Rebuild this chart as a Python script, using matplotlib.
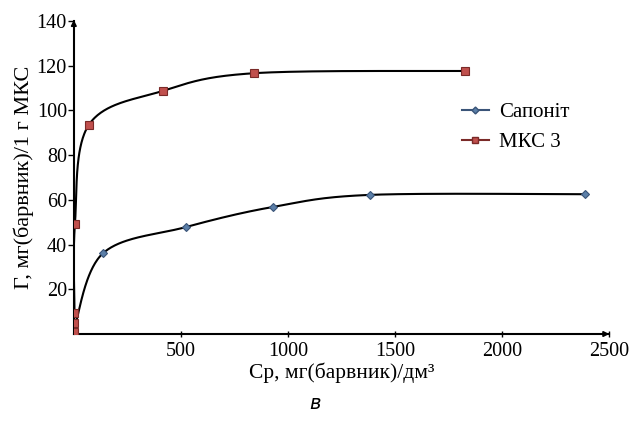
import numpy as np
import matplotlib.pyplot as plt
from matplotlib.lines import Line2D

plt.rcParams['font.family'] = ['Liberation Serif', 'DejaVu Serif']

# дані з графіка
sap_x = [1, 135, 523, 930, 1383, 2390]
sap_y = [2, 36, 47.8, 56.8, 62.2, 62.5]
mks_x = [1, 2, 3, 5, 70, 416, 841, 1827]
mks_y = [1, 5, 9.5, 49, 93.5, 108.7, 116.6, 117.6]

x_ticks = [500, 1000, 1500, 2000, 2500]
y_ticks = [20, 40, 60, 80, 100, 120, 140]

XMAX, YMAX = 2500, 140


def smooth(xs, ys, sx, sy, n=60):
    # згладжування як в Excel (кубічні Безьє), рахуємо в пікселях
    p = np.column_stack([np.array(xs) * sx, np.array(ys) * sy])
    out = [p[0]]
    for i in range(len(p) - 1):
        p0 = p[i - 1] if i > 0 else p[i]
        p1, p2 = p[i], p[i + 1]
        p3 = p[i + 2] if i + 2 < len(p) else p[i + 1]
        c1 = p1 + (p2 - p0) / 6
        c2 = p2 - (p3 - p1) / 6
        t = np.linspace(0, 1, n)[1:, None]
        seg = (1 - t) ** 3 * p1 + 3 * (1 - t) ** 2 * t * c1 + 3 * (1 - t) * t ** 2 * c2 + t ** 3 * p2
        out.extend(seg)
    out = np.array(out)
    return out[:, 0] / sx, out[:, 1] / sy


fig = plt.figure(figsize=(6.31, 4.22), dpi=100)
ax = fig.add_axes([0.117, 0.2085, 0.848, 0.742])

sx = 535 / XMAX
sy = 313 / YMAX

cx, cy = smooth(sap_x, sap_y, sx, sy)
ax.plot(cx, cy, color='black', lw=1.5, zorder=2)
cx, cy = smooth(mks_x, mks_y, sx, sy)
ax.plot(cx, cy, color='black', lw=1.5, zorder=2)

ax.plot(sap_x, sap_y, ls='none', marker='D', ms=4.5, mfc='#5b7fa8', mec='#3a5478', mew=0.8, zorder=3)
ax.plot(mks_x, mks_y, ls='none', marker='s', ms=6, mfc='#c0504d', mec='#7a2a28', mew=0.8, zorder=4)

ax.set_xlim(0, XMAX)
ax.set_ylim(0, YMAX)
ax.set_xticks(x_ticks)
ax.set_yticks(y_ticks)
ax.tick_params(axis='both', labelsize=14.5, length=4, width=1, color='black')
ax.tick_params(axis='x', direction='inout', length=5, pad=3)
ax.tick_params(axis='y', direction='out', pad=1)

for s in ['top', 'right']:
    ax.spines[s].set_visible(False)
for s in ['left', 'bottom']:
    ax.spines[s].set_linewidth(1.5)

# стрілки на осях
ax.annotate('', xy=(1.006, 0), xytext=(0.99, 0), xycoords='axes fraction',
            arrowprops=dict(arrowstyle='-|>', color='black', lw=1.2, mutation_scale=8), annotation_clip=False)
ax.annotate('', xy=(0, 1.012), xytext=(0, 0.99), xycoords='axes fraction',
            arrowprops=dict(arrowstyle='-|>', color='black', lw=1.2, mutation_scale=8), annotation_clip=False)

ax.set_xlabel('Ср, мг(барвник)/дм³', fontsize=15.5, labelpad=1)
ax.set_ylabel('Г, мг(барвник)/1 г МКС', fontsize=16, labelpad=2)

handles = [
    Line2D([], [], color='#3a5478', lw=1.5, marker='D', ms=3.5, mfc='#5b7fa8', mec='#3a5478'),
    Line2D([], [], color='#7a2a28', lw=1.5, marker='s', ms=5, mfc='#c0504d', mec='#7a2a28'),
]
ax.legend(handles, ['Сапоніт', 'МКС 3'], loc='upper left', bbox_to_anchor=(0.69, 0.8),
          frameon=False, fontsize=15, handlelength=1.3, handletextpad=0.5, labelspacing=0.5)

fig.text(0.5, 0.03, 'в', fontsize=14, style='italic', family=['DejaVu Sans'], ha='center', va='baseline')

fig.savefig('out.png', dpi=100)
